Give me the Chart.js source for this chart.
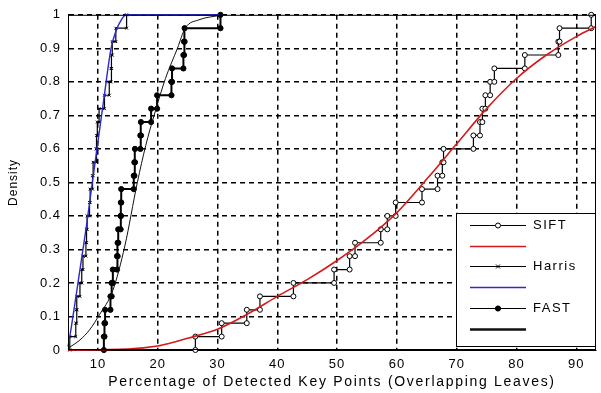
<!DOCTYPE html>
<html>
<head>
<meta charset="utf-8">
<script src="https://cdn.jsdelivr.net/npm/chart.js@4.4.0/dist/chart.umd.min.js"></script>
<style>
  html, body { margin: 0; padding: 0; background: #fff; }
</style>
</head>
<body>
<canvas id="cdfChart" width="601" height="393"></canvas>
<script>
// Cumulative levels of the empirical CDFs (25 samples per detector)
const cdfLevels = [0.04, 0.08, 0.12, 0.16, 0.20, 0.24, 0.28, 0.32, 0.36, 0.40,
                   0.44, 0.48, 0.52, 0.56, 0.60, 0.64, 0.68, 0.72, 0.76, 0.80,
                   0.84, 0.88, 0.92, 0.96, 1.00];

// Sorted sample values (percentage of detected key points)
const siftX = [26.3, 30.7, 34.9, 37.1, 42.7, 49.5, 52.1, 53.0, 57.3, 58.4,
               59.8, 64.2, 66.8, 67.6, 67.8, 72.8, 73.9, 74.3, 74.8, 75.6,
               76.3, 81.4, 87.0, 87.2, 92.5];
const harrisX = [5.3, 6.3, 6.4, 6.5, 7.0, 7.3, 7.5, 8.0, 8.1, 8.2,
                 8.6, 8.7, 9.1, 9.2, 9.7, 9.8, 9.9, 10.2, 11.1, 11.9,
                 12.2, 12.3, 12.4, 13.0, 14.8];
const fastX = [11.0, 11.1, 11.2, 12.1, 12.3, 12.5, 13.2, 13.3, 13.4, 13.8,
               13.85, 13.9, 16.0, 16.1, 16.2, 17.1, 17.2, 18.9, 19.9, 22.3,
               22.4, 24.3, 24.4, 24.5, 30.5];

// Fitted CDF curves
const siftFitX = [5, 15, 20, 22, 25, 30, 35, 40, 45, 50, 55, 60, 65, 70, 75, 80, 85, 90, 93.3];
const siftFitY = [0, 0.003, 0.012, 0.02, 0.035, 0.062, 0.107, 0.16, 0.21, 0.267, 0.332, 0.41,
                  0.51, 0.615, 0.72, 0.81, 0.88, 0.935, 0.965];
const harrisFitX = [5.0, 5.3, 7.0, 8.0, 9.0, 10.0, 11.0, 12.2, 13.0, 13.6, 14.7, 30.3];
const harrisFitY = [0.01, 0.04, 0.24, 0.36, 0.49, 0.62, 0.75, 0.9, 0.95, 0.975, 1.0, 1.0];
const fastFitX = [5, 7, 8.6, 10.25, 12.5, 14.5, 16.6, 18.0, 19.4, 21.3, 23.3, 24.6, 26.9, 30.3];
const fastFitY = [0.005, 0.03, 0.06, 0.105, 0.178, 0.31, 0.5, 0.61, 0.7, 0.81, 0.9, 0.96, 0.985, 0.998];

// Axis ticks
const xTicks = [10, 20, 30, 40, 50, 60, 70, 80, 90];
const yTicks = [0, 0.1, 0.2, 0.3, 0.4, 0.5, 0.6, 0.7, 0.8, 0.9, 1];

const xTitle = 'Percentage of Detected Key Points (Overlapping Leaves)';

// Turn sample values into stair vertices: (x_i, F_{i-1}) -> (x_i, F_i)
function stairs(xs, levels) {
    const pts = [];
    let prev = 0;
    xs.forEach((x, i) => {
        pts.push({ x: x, y: prev });
        pts.push({ x: x, y: levels[i] });
        prev = levels[i];
    });
    return pts;
}

function curve(xs, ys) {
    return xs.map((x, i) => ({ x: x, y: ys[i] }));
}

const FONT = '"Liberation Sans", Arial, sans-serif';

// Draws the closed axes box, the spaced x title and the MATLAB-style legend
const frameAndLegend = {
    id: 'frameAndLegend',
    beforeDraw(chart) {
        chart.ctx.letterSpacing = '1px';
    },
    afterDraw(chart) {
        const ctx = chart.ctx;
        const a = chart.chartArea;
        ctx.save();
        ctx.setLineDash([]);
        ctx.strokeStyle = '#000';
        ctx.lineWidth = 1;
        ctx.strokeRect(a.left + 0.5, a.top + 0.5, a.right - a.left - 1, a.bottom - a.top - 1);

        // x axis title
        ctx.letterSpacing = '1.7px';
        ctx.font = '14px ' + FONT;
        ctx.fillStyle = '#000';
        ctx.textAlign = 'center';
        ctx.textBaseline = 'middle';
        ctx.fillText(xTitle, (a.left + a.right) / 2, 382);

        // legend box
        const w = 139, h = 133;
        const bx = a.right - w - 1, by = a.bottom - 4 - h;
        ctx.fillStyle = '#fff';
        ctx.fillRect(bx, by, w, h);
        ctx.strokeRect(bx + 0.5, by + 0.5, w, h);

        ctx.letterSpacing = '1.5px';
        ctx.font = '13px ' + FONT;
        ctx.textBaseline = 'middle';
        ctx.textAlign = 'left';
        chart.data.datasets.forEach((ds, i) => {
            const y = Math.round(by + 12 + i * 20.7) + 0.5;
            const x0 = bx + 14, x1 = bx + 70, xm = (x0 + x1) / 2;
            ctx.strokeStyle = ds.borderColor;
            ctx.lineWidth = ds.legendWidth || ds.borderWidth;
            ctx.beginPath();
            ctx.moveTo(x0, y);
            ctx.lineTo(x1, y);
            ctx.stroke();
            if (ds.pointRadius > 0) {
                ctx.lineWidth = 1;
                ctx.strokeStyle = ds.pointBorderColor;
                ctx.fillStyle = ds.pointBackgroundColor;
                if (ds.pointStyle === 'crossRot') {
                    const r = ds.pointRadius;
                    ctx.beginPath();
                    ctx.moveTo(xm - r, y - r); ctx.lineTo(xm + r, y + r);
                    ctx.moveTo(xm - r, y + r); ctx.lineTo(xm + r, y - r);
                    ctx.stroke();
                } else {
                    ctx.beginPath();
                    ctx.arc(xm, y, ds.pointRadius, 0, Math.PI * 2);
                    ctx.fill();
                    ctx.stroke();
                }
            }
            if (ds.label) {
                ctx.fillStyle = '#000';
                ctx.fillText(ds.label, bx + 77, y);
            }
        });
        ctx.restore();
    }
};

const ctx = document.getElementById('cdfChart').getContext('2d');

const cdfChart = new Chart(ctx, {
    type: 'line',
    data: {
        datasets: [
            {
                label: 'SIFT',
                data: stairs(siftX, cdfLevels),
                borderColor: '#000',
                borderWidth: 1.2,
                pointStyle: 'circle',
                pointRadius: 2.5,
                pointBorderWidth: 1,
                pointBorderColor: '#000',
                pointBackgroundColor: '#fff',
                order: 2
            },
            {
                label: '',
                data: curve(siftFitX, siftFitY),
                borderColor: '#d41a1a',
                borderWidth: 1.6,
                pointRadius: 0,
                cubicInterpolationMode: 'monotone',
                order: 1
            },
            {
                label: 'Harris',
                data: stairs(harrisX, cdfLevels),
                borderColor: '#000',
                borderWidth: 1.2,
                pointStyle: 'crossRot',
                pointRadius: 2,
                pointBorderWidth: 1,
                pointBorderColor: '#000',
                pointBackgroundColor: '#000',
                order: 4
            },
            {
                label: '',
                data: curve(harrisFitX, harrisFitY),
                borderColor: '#2a2ad0',
                borderWidth: 1.4,
                pointRadius: 0,
                cubicInterpolationMode: 'monotone',
                order: 3
            },
            {
                label: 'FAST',
                data: stairs(fastX, cdfLevels),
                borderColor: '#000',
                borderWidth: 2,
                legendWidth: 1.2,
                pointStyle: 'circle',
                pointRadius: 2.6,
                pointBorderWidth: 1,
                pointBorderColor: '#000',
                pointBackgroundColor: '#000',
                order: 6
            },
            {
                label: '',
                data: curve(fastFitX, fastFitY),
                borderColor: '#111',
                borderWidth: 1,
                legendWidth: 2.5,
                pointRadius: 0,
                cubicInterpolationMode: 'monotone',
                order: 5
            }
        ]
    },
    options: {
        responsive: false,
        animation: false,
        devicePixelRatio: 1,
        clip: false,
        layout: { padding: { top: 13, right: 1, left: 0, bottom: 0 } },
        plugins: {
            legend: { display: false },
            tooltip: { enabled: false }
        },
        scales: {
            x: {
                type: 'linear',
                min: 5,
                max: 93.3,
                afterBuildTicks: function(scale) {
                    scale.ticks = xTicks.map(v => ({ value: v }));
                },
                afterFit: function(scale) {
                    scale.height = 43;
                },
                grid: {
                    color: '#000',
                    lineWidth: 1.5,
                    drawTicks: false
                },
                border: { display: true, color: '#000', width: 1, dash: [5, 4] },
                ticks: {
                    color: '#000',
                    padding: 7,
                    maxRotation: 0,
                    font: { family: FONT, size: 13 }
                },
                title: { display: false }
            },
            y: {
                min: 0,
                max: 1,
                afterBuildTicks: function(scale) {
                    scale.ticks = yTicks.map(v => ({ value: v }));
                },
                afterFit: function(scale) {
                    scale.width = 68;
                },
                grid: {
                    color: '#000',
                    lineWidth: 1.5,
                    drawTicks: false
                },
                border: { display: true, color: '#000', width: 1, dash: [5, 4] },
                ticks: {
                    color: '#000',
                    padding: 7,
                    font: { family: FONT, size: 13 },
                    callback: v => String(v)
                },
                title: {
                    display: true,
                    text: 'Density',
                    color: '#000',
                    padding: { top: 6, bottom: 0 },
                    font: { family: FONT, size: 12 }
                }
            }
        }
    },
    plugins: [frameAndLegend]
});
</script>
</body>
</html>
